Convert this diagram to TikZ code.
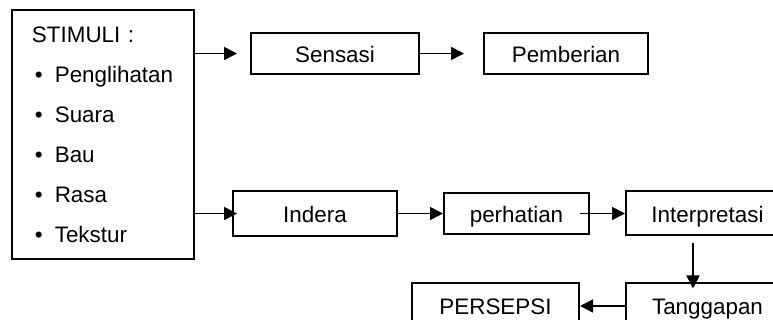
\documentclass[tikz,border=0pt]{standalone}
\usepackage{fontspec}
\setmainfont{Liberation Sans}
\usetikzlibrary{arrows.meta, positioning}

\newcommand{\butir}[1]{\hspace{1.5pt}\textbullet\hspace{6pt}#1}

\begin{document}
\begin{tikzpicture}[
		x=0.5pt, y=-0.5pt,
		every node/.style={font=\fontsize{11.2}{20}\selectfont},
		panah/.style={-{Triangle[length=6.5pt,width=6.5pt]}, line width=0.85pt}
	]

	\tikzstyle{kotak}=[
		draw,
		line width=1pt,
		inner sep=0pt,
		text height=9pt,
		text depth=0pt
	]
	\tikzstyle{daftar}=[
		draw,
		line width=1pt,
		align=left,
		text width=71pt,
		inner xsep=10pt,
		inner ysep=0pt,
		minimum height=124.5pt
	]

	\clip (0,0) rectangle (773,320);

	\node[daftar] (stim) at (103,134.5) {STIMULI :\\ \butir{Penglihatan}\\ \butir{Suara}\\ \butir{Bau}\\ \butir{Rasa}\\ \butir{Tekstur}};
	\node[kotak, minimum width=84pt, minimum height=20.5pt] (sen) at (335,53.5) {Sensasi};
	\node[kotak, minimum width=82pt, minimum height=20.5pt] (pem) [right=31.5pt of sen] {Pemberian};
	\node[kotak, minimum width=82pt, minimum height=22.5pt] (ind) at (315,213.5) {Indera};
	\node[kotak, minimum width=72.5pt, minimum height=20.5pt] (per) [right=22.5pt of ind] {perhatian};
	\node[kotak, minimum width=81.5pt, minimum height=22pt] (int) [right=17.5pt of per] {Interpretasi};
	\node[kotak, minimum width=81.5pt, minimum height=22.5pt] (tang) [below=23pt of int] {Tanggapan};
	\node[kotak, minimum width=83.5pt, minimum height=22.5pt] (pers) [left=22.5pt of tang] {PERSEPSI};

	\draw[panah] (stim.east |- sen.west) -- ([xshift=-6.5pt]sen.west);
	\draw[panah] (sen.east) -- ([xshift=-9.5pt]pem.west);
	\draw[panah] (stim.east |- ind.west) -- ([xshift=2.5pt]ind.west);
	\draw[panah] (ind.east) -- (per.west);
	\draw[panah] ([xshift=-5pt]per.east) -- (int.west);
	\draw[panah] ([xshift=34pt,yshift=-3.5pt]int.south west) -- ([xshift=34pt,yshift=-3pt]tang.north west);
	\draw[panah] (tang.west) -- (pers.east);
\end{tikzpicture}
\end{document}
